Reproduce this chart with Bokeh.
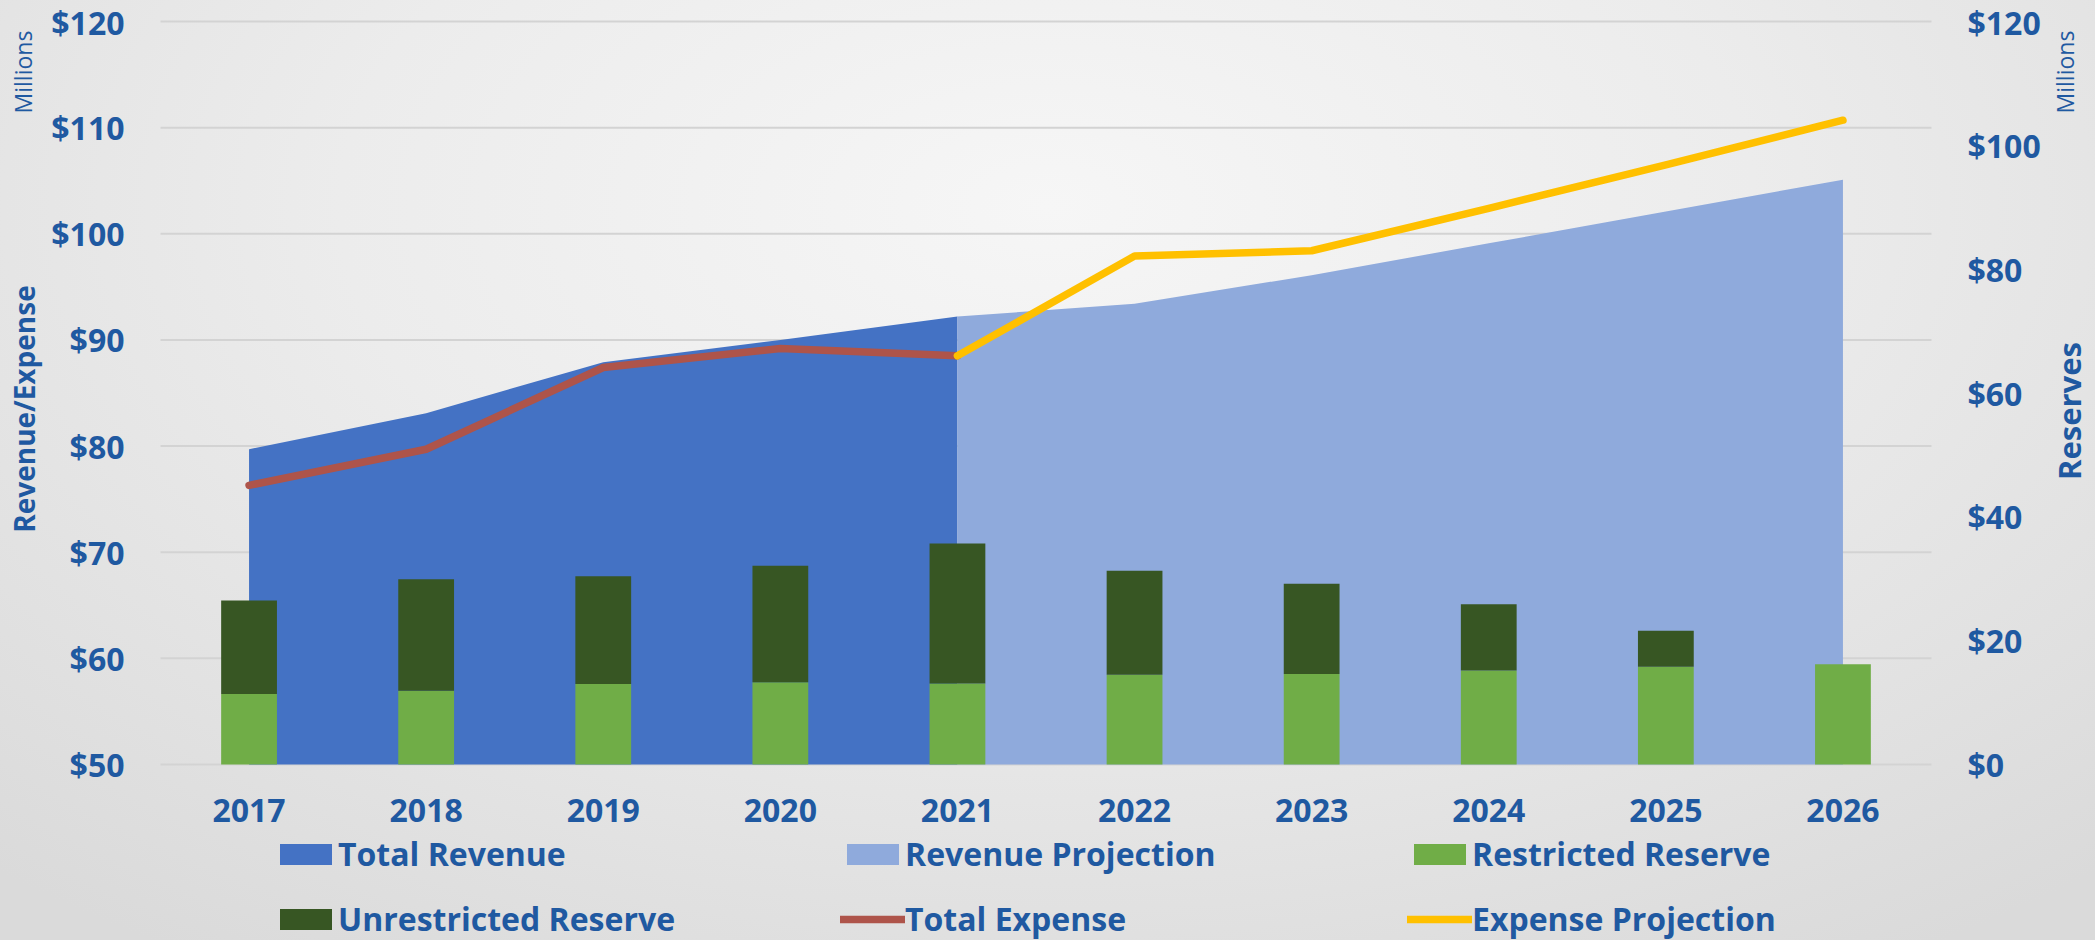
from math import pi
from bokeh.plotting import figure
from bokeh.models import (Range1d, LinearAxis, FixedTicker, NumeralTickFormatter,
                          Legend, LegendItem, Label)
from bokeh.embed import file_html
from bokeh.resources import INLINE

# ---------------- data (millions of dollars) ----------------
years = ["2017", "2018", "2019", "2020", "2021", "2022", "2023", "2024", "2025", "2026"]
actual_years = years[:5]
projection_years = years[4:]
total_revenue = [79.7, 83.1, 87.9, 90.0, 92.2]
revenue_projection = [92.2, 93.4, 96.1, 99.1, 102.1, 105.1]
total_expense = [76.3, 79.7, 87.4, 89.2, 88.5]
expense_projection = [88.5, 97.9, 98.4, 102.4, 106.5, 110.7]
restricted_reserve = [11.4, 11.9, 13.0, 13.3, 13.1, 14.5, 14.6, 15.2, 15.8, 16.2]
unrestricted_reserve = [15.1, 18.0, 17.4, 18.8, 22.6, 16.8, 14.6, 10.7, 5.8, 0.0]
left_ticks = [50, 60, 70, 80, 90, 100, 110, 120]
right_ticks = [0, 20, 40, 60, 80, 100, 120]

# ---------------- style / layout ----------------
FONT = "Open Sans"
BLUE = "#1F59A1"
C_REV = "#4472C4"
C_PROJ = "#8FAADC"
C_RES = "#70AD47"
C_UNRES = "#375623"
C_EXP = "#AE544A"
C_EXPP = "#FFC000"

W, H = 2095, 940
PLOT_L, PLOT_R = 160, 1931     # pixel columns of the plotting area
TOP, AXIS_Y = 21, 764          # pixel rows of the top tick and of the $50 / $0 baseline
n = len(years)
pos = {y: i + 0.5 for i, y in enumerate(years)}

# the frame covers the whole canvas; the axes are pinned at the plot-area edges
xpx = (PLOT_R - PLOT_L) / n
lpx = (AXIS_Y - TOP) / (left_ticks[-1] - left_ticks[0])
rpx = (AXIS_Y - TOP) / (right_ticks[-1] - right_ticks[0])
x_range = Range1d(-PLOT_L / xpx, n + (W - PLOT_R) / xpx)
y_range = Range1d(left_ticks[0] - (H - AXIS_Y) / lpx, left_ticks[-1] + TOP / lpx)
res_range = Range1d(right_ticks[0] - (H - AXIS_Y) / rpx, right_ticks[-1] + TOP / rpx)

p = figure(width=W, height=H, output_backend="svg", toolbar_location=None,
           x_range=x_range, y_range=y_range,
           min_border_left=0, min_border_right=0, min_border_top=0, min_border_bottom=0)
p.title.visible = False
p.extra_y_ranges = {"res": res_range}
p.background_fill_color = None
p.border_fill_color = None
p.outline_line_color = None
p.styles = {"background": "radial-gradient(ellipse 75% 95% at 50% 22%, #f6f6f6 0%, #ececec 45%, #dadada 100%)"}
p.xgrid.visible = False
p.ygrid.visible = False

# horizontal gridlines across the plotting area only
p.segment(x0=[0] * len(left_ticks), x1=[n] * len(left_ticks), y0=left_ticks, y1=left_ticks,
          line_color="#d3d3d3", line_width=2)

def style_axis(ax, standoff):
    ax.axis_line_color = None
    ax.major_tick_line_color = None
    ax.minor_tick_line_color = None
    ax.major_tick_out = 0
    ax.major_tick_in = 0
    ax.minor_tick_out = 0
    ax.major_label_text_font = FONT
    ax.major_label_text_font_size = "32px"
    ax.major_label_text_font_style = "bold"
    ax.major_label_text_color = BLUE
    ax.major_label_standoff = standoff

left_axis = p.yaxis[0]
left_axis.ticker = FixedTicker(ticks=left_ticks)
left_axis.formatter = NumeralTickFormatter(format="$0")
left_axis.fixed_location = 0
style_axis(left_axis, 36)

right_axis = LinearAxis(y_range_name="res", fixed_location=n)
right_axis.ticker = FixedTicker(ticks=right_ticks)
right_axis.formatter = NumeralTickFormatter(format="$0")
style_axis(right_axis, 36)
p.add_layout(right_axis, "right")

xaxis = p.xaxis[0]
xaxis.ticker = FixedTicker(ticks=[pos[y] for y in years])
xaxis.major_label_overrides = {pos[y]: y for y in years}
xaxis.fixed_location = left_ticks[0]
style_axis(xaxis, 34)

# axis titles
def add_title(text, x, y, size, style):
    p.add_layout(Label(x=x, y=y, text=text, angle=pi / 2, text_align="center",
                       text_baseline="alphabetic", text_font=FONT,
                       text_font_size=size, text_font_style=style, text_color=BLUE))

add_title("Millions", -0.774, 115.24, "23px", "normal")
add_title("Revenue/Expense", -0.768, 83.49, "28px", "bold")
add_title("Millions", 10.751, 115.24, "23px", "normal")
add_title("Reserves", 10.779, 83.30, "31px", "bold")

# areas
xa = [pos[y] for y in actual_years]
xp = [pos[y] for y in projection_years]
base = left_ticks[0]
r_rev = p.varea(x=xa, y1=[base] * len(xa), y2=total_revenue, fill_color=C_REV)
r_proj = p.varea(x=xp, y1=[base] * len(xp), y2=revenue_projection, fill_color=C_PROJ)

# stacked reserve bars (secondary axis)
xb = [pos[y] for y in years]
tops = [r + u for r, u in zip(restricted_reserve, unrestricted_reserve)]
r_res = p.vbar(x=xb, bottom=0, top=restricted_reserve, width=0.315,
               fill_color=C_RES, line_color=None, y_range_name="res")
r_unres = p.vbar(x=xb, bottom=restricted_reserve, top=tops, width=0.315,
                 fill_color=C_UNRES, line_color=None, y_range_name="res")

# expense lines
r_exp = p.line(xa, total_expense, line_color=C_EXP, line_width=7.5,
               line_cap="round", line_join="round")
r_expp = p.line(xp, expense_projection, line_color=C_EXPP, line_width=7.5,
                line_cap="round", line_join="round")

# legend: 3 columns x 2 rows under the axis
legend = Legend(items=[LegendItem(label="Total Revenue", renderers=[r_rev]),
                       LegendItem(label="Unrestricted Reserve", renderers=[r_unres]),
                       LegendItem(label="Revenue Projection", renderers=[r_proj]),
                       LegendItem(label="Total Expense", renderers=[r_exp]),
                       LegendItem(label="Restricted Reserve", renderers=[r_res]),
                       LegendItem(label="Expense Projection", renderers=[r_expp])],
                orientation="vertical", ncols=3, location=(PLOT_L + 113, 0),
                glyph_width=65, glyph_height=26, label_standoff=0, label_width=480,
                spacing=22, padding=0, margin=0,
                background_fill_alpha=0, border_line_color=None,
                label_text_font=FONT, label_text_font_size="32px",
                label_text_font_style="bold", label_text_color=BLUE)
p.add_layout(legend, "center")

open("out.html", "w").write(file_html(p, INLINE))
